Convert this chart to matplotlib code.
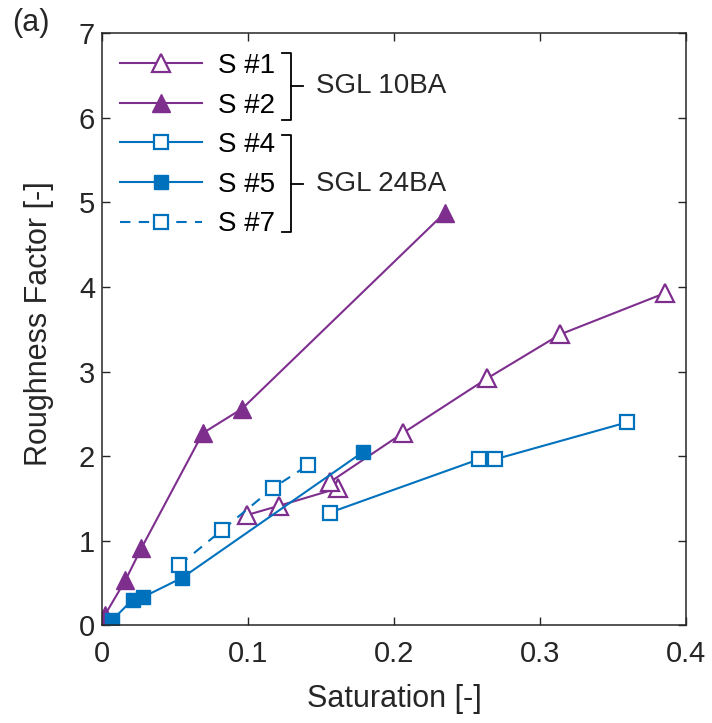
import matplotlib
matplotlib.use("Agg")
import matplotlib.pyplot as plt

plt.rcParams['font.family'] = ['Liberation Sans', 'DejaVu Sans']

PURPLE = "#7E2F8E"
BLUE = "#0072BD"
DARK = "#262626"

# Saturation / roughness factor
s1_x = [0.099, 0.121, 0.162, 0.156, 0.206, 0.264, 0.314, 0.386]
s1_y = [1.30, 1.41, 1.62, 1.69, 2.27, 2.92, 3.44, 3.93]

s2_x = [0.002, 0.016, 0.027, 0.069, 0.096, 0.235]
s2_y = [0.12, 0.53, 0.91, 2.27, 2.56, 4.88]

s4_x = [0.156, 0.258, 0.269, 0.360]
s4_y = [1.33, 1.96, 1.96, 2.40]

s5_x = [0.007, 0.021, 0.028, 0.055, 0.179]
s5_y = [0.06, 0.30, 0.33, 0.56, 2.05]

s7_x = [0.053, 0.082, 0.117, 0.141]
s7_y = [0.71, 1.12, 1.62, 1.89]

x_ticks = [0, 0.1, 0.2, 0.3, 0.4]
x_ticklabels = ["0", "0.1", "0.2", "0.3", "0.4"]
y_ticks = [0, 1, 2, 3, 4, 5, 6, 7]

groups = ["SGL 10BA", "SGL 24BA"]


def main():
    fig = plt.figure(figsize=(7.12, 7.23), dpi=100)
    ax = fig.add_axes([0.1433, 0.1355, 0.820, 0.8182])

    lw = 1.5
    ax.plot(s1_x, s1_y, color=PURPLE, lw=lw, marker="^", ms=13.5,
            mfc="white", mec=PURPLE, mew=1.6, label="S #1")
    ax.plot(s2_x, s2_y, color=PURPLE, lw=lw, marker="^", ms=13.5,
            mfc=PURPLE, mec=PURPLE, label="S #2")
    ax.plot(s4_x, s4_y, color=BLUE, lw=lw, marker="s", ms=9.5,
            mfc="white", mec=BLUE, mew=1.6, label="S #4")
    ax.plot(s5_x, s5_y, color=BLUE, lw=lw, marker="s", ms=9.5,
            mfc=BLUE, mec=BLUE, label="S #5")
    ax.plot(s7_x, s7_y, color=BLUE, lw=lw, ls=(0, (5, 4)), marker="s", ms=9.5,
            mfc="white", mec=BLUE, mew=1.6, label="S #7")

    ax.set_xlim(0, 0.4)
    ax.set_ylim(0, 7)
    ax.set_xticks(x_ticks)
    ax.set_xticklabels(x_ticklabels)
    ax.set_yticks(y_ticks)
    ax.tick_params(direction="in", length=6, width=1, top=True, right=True,
                   labelsize=21, colors=DARK)
    ax.tick_params(axis="x", pad=11)
    ax.tick_params(axis="y", pad=5)
    for sp in ax.spines.values():
        sp.set_linewidth(1.1)
        sp.set_color(DARK)

    ax.set_xlabel("Saturation [-]", fontsize=22, color=DARK)
    ax.set_ylabel("Roughness Factor [-]", fontsize=22, color=DARK)
    ax.xaxis.set_label_coords(0.5, -0.100)
    ax.yaxis.set_label_coords(-0.083, 0.51)

    ax.legend(loc="upper left", bbox_to_anchor=(0.031, 0.967), frameon=False,
              fontsize=20, handlelength=2.95, handletextpad=0.58,
              labelspacing=0.49, borderpad=0, borderaxespad=0)

    # brackets grouping the legend entries
    brackets = [(0.967, 0.854), (0.828, 0.664)]
    for (top, bot), name in zip(brackets, groups):
        mid = (top + bot) / 2
        ax.plot([0.308, 0.324, 0.324, 0.308], [top, top, bot, bot],
                color="black", lw=1.3, transform=ax.transAxes, clip_on=False)
        ax.plot([0.324, 0.344], [mid, mid], color="black", lw=1.3,
                transform=ax.transAxes, clip_on=False)
        ax.text(0.366, mid, name, fontsize=20, va="center", ha="left",
                color=DARK, transform=ax.transAxes)

    fig.text(0.017, 0.989, "(a)", fontsize=22, va="top", ha="left", color=DARK)

    fig.savefig("out.png", dpi=100)


if __name__ == "__main__":
    main()
